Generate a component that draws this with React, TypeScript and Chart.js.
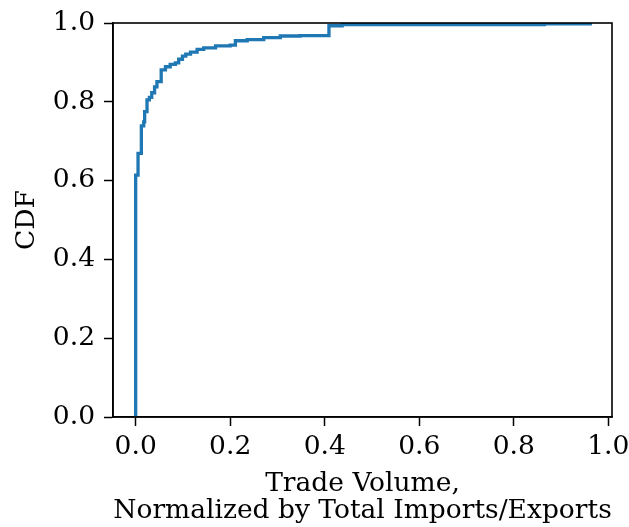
import React, { useEffect, useRef } from "react";
import { Chart, registerables } from "chart.js";

Chart.register(...registerables);

// Step positions (normalized trade volume) and the CDF value reached at each step
const tradeVolume = [
  0.0, 0.0, 0.005, 0.012, 0.017, 0.019, 0.024, 0.029, 0.034, 0.04, 0.045, 0.054,
  0.063, 0.073, 0.084, 0.091, 0.099, 0.106, 0.116, 0.13, 0.144, 0.169, 0.2,
  0.211, 0.236, 0.271, 0.306, 0.348, 0.409, 0.437, 0.865, 0.962,
];
const cdf = [
  0.0, 0.614, 0.669, 0.739, 0.749, 0.775, 0.805, 0.811, 0.823, 0.838, 0.851, 0.881,
  0.889, 0.895, 0.899, 0.908, 0.916, 0.921, 0.926, 0.933, 0.937, 0.942, 0.944,
  0.955, 0.958, 0.963, 0.967, 0.968, 0.993, 0.996, 0.998, 1.0,
];

const xTicks = [0, 0.2, 0.4, 0.6, 0.8, 1.0];
const yTicks = [0, 0.2, 0.4, 0.6, 0.8, 1.0];
const xTitle = ["Trade Volume,", "Normalized by Total Imports/Exports"];
const yTitle = "CDF";

const FONT = { family: "'DejaVu Serif', serif", size: 26.5 };

// Draws the full box (top and right edges included) around the plot area
const frame = {
  id: "frame",
  afterDatasetsDraw(chart: any) {
    const { ctx, chartArea } = chart;
    ctx.save();
    ctx.strokeStyle = "#000";
    ctx.lineWidth = 1.6;
    ctx.strokeRect(chartArea.left, chartArea.top, chartArea.right - chartArea.left, chartArea.bottom - chartArea.top);
    ctx.restore();
  },
};

export default function App() {
  const ref = useRef<HTMLCanvasElement>(null);

  useEffect(() => {
    if (!ref.current) return;
    const points = tradeVolume.map((x, i) => ({ x, y: cdf[i] }));
    const chart = new Chart(ref.current, {
      type: "line",
      data: {
        datasets: [
          {
            data: points,
            borderColor: "#1f77b4",
            borderWidth: 3.3,
            pointRadius: 0,
            stepped: "before",
            fill: false,
          },
        ],
      },
      options: {
        animation: false,
        responsive: false,
        devicePixelRatio: 1,
        layout: { padding: { left: 0, top: 23, right: 17, bottom: 0 } },
        plugins: { legend: { display: false }, tooltip: { enabled: false } },
        scales: {
          x: {
            type: "linear",
            min: -0.048,
            max: 1.008,
            afterBuildTicks: (s: any) => {
              s.ticks = xTicks.map((v) => ({ value: v }));
            },
            afterFit: (s: any) => {
              s.height = 110;
              s.paddingLeft = 0;
              s.paddingRight = 0;
            },
            grid: { drawOnChartArea: false, drawTicks: true, tickLength: 9, tickColor: "#000", tickWidth: 1.5 },
            border: { display: true, color: "#000", width: 1.6 },
            ticks: {
              color: "#000",
              font: FONT,
              padding: 5,
              maxRotation: 0,
              callback: (v: any) => Number(v).toFixed(1),
            },
            title: { display: true, text: xTitle, color: "#000", font: { ...FONT, lineHeight: 1.02 }, padding: { top: 0, bottom: 2 } },
          },
          y: {
            type: "linear",
            min: 0,
            max: 1,
            afterBuildTicks: (s: any) => {
              s.ticks = yTicks.map((v) => ({ value: v }));
            },
            afterFit: (s: any) => {
              s.width = 113;
              s.paddingTop = 0;
              s.paddingBottom = 0;
            },
            grid: { drawOnChartArea: false, drawTicks: true, tickLength: 9, tickColor: "#000", tickWidth: 1.5 },
            border: { display: true, color: "#000", width: 1.6 },
            ticks: {
              color: "#000",
              font: FONT,
              padding: 9,
              callback: (v: any) => Number(v).toFixed(1),
            },
            title: { display: true, text: yTitle, color: "#000", font: FONT, padding: { top: 11, bottom: 0 } },
          },
        },
      },
      plugins: [frame],
    });
    return () => chart.destroy();
  }, []);

  return (
    <div style={{ position: "fixed", left: 0, top: 0, width: 629, height: 527, background: "#fff" }}>
      <canvas ref={ref} width={629} height={527} style={{ width: 629, height: 527, display: "block" }} />
    </div>
  );
}
